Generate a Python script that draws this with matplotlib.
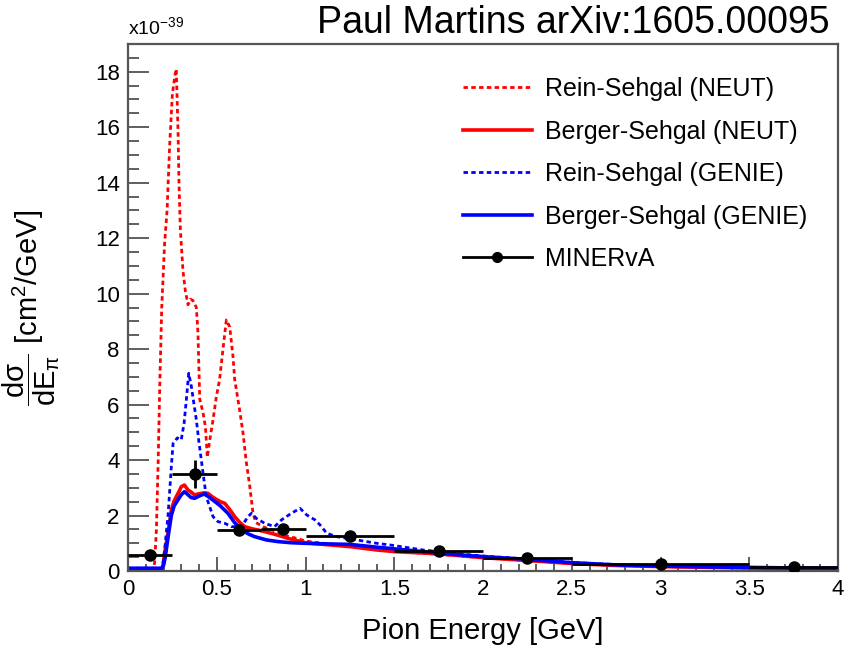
"""
Coherent pion production: dsigma/dE_pi, NEUT/GENIE models vs MINERvA.
"""

import numpy as np
import matplotlib
matplotlib.use('Agg')
import matplotlib.pyplot as plt
from matplotlib.lines import Line2D
from matplotlib.ticker import MultipleLocator

plt.rcParams['font.family'] = ['Liberation Sans', 'DejaVu Sans']
plt.rcParams['mathtext.fontset'] = 'custom'
plt.rcParams['mathtext.rm'] = 'Liberation Sans'
plt.rcParams['mathtext.it'] = 'Liberation Sans:italic'
plt.rcParams['mathtext.sf'] = 'Liberation Sans'

# ---------------------------------------------------------------------------
# Data (units of 1e-39 cm^2/GeV)
# ---------------------------------------------------------------------------

rs_neut_e = [0.0, 0.14, 0.15, 0.16, 0.17, 0.18, 0.19, 0.206, 0.22, 0.235, 0.25,
             0.265, 0.272, 0.282, 0.287, 0.295, 0.31, 0.323, 0.338, 0.352, 0.366,
             0.385, 0.394, 0.404, 0.423, 0.436, 0.447, 0.46, 0.479, 0.498, 0.516,
             0.535, 0.554, 0.573, 0.592, 0.601, 0.629, 0.648, 0.667, 0.686, 0.704,
             0.72, 0.76, 0.80, 0.85, 0.90, 0.95, 1.0, 1.1, 1.2, 1.3, 1.4, 1.5,
             1.6, 1.7, 1.8, 1.9, 2.0, 2.1, 2.25, 2.4, 2.5, 2.75, 3.0, 3.5, 4.0]
rs_neut_v = [0.0, 0.0, 0.3, 1.5, 4.0, 7.0, 9.5, 11.8, 13.0, 15.4, 17.2,
             17.9, 18.1, 15.8, 14.0, 12.3, 10.8, 10.1, 9.6, 9.8, 9.75,
             9.5, 8.6, 6.2, 5.7, 5.2, 4.1, 4.7, 5.45, 6.3, 6.9,
             8.0, 9.05, 8.8, 7.7, 6.9, 5.8, 4.97, 3.9, 3.05, 2.1,
             1.75, 1.6, 1.5, 1.4, 1.25, 1.18, 1.08, 1.0, 0.94, 0.9, 0.8, 0.72,
             0.67, 0.62, 0.58, 0.53, 0.48, 0.44, 0.38, 0.32, 0.27, 0.2, 0.16, 0.11, 0.08]

bs_neut_e = [0.0, 0.19, 0.2, 0.206, 0.225, 0.244, 0.258, 0.272, 0.29, 0.30,
             0.318, 0.338, 0.355, 0.375, 0.395, 0.413, 0.43, 0.45, 0.47, 0.488,
             0.52, 0.545, 0.575, 0.601, 0.63, 0.657, 0.70, 0.732, 0.77, 0.807,
             0.85, 0.90, 0.95, 1.0, 1.1, 1.25, 1.4, 1.5, 1.75, 1.93, 2.0,
             2.25, 2.5, 2.75, 3.0, 3.5, 4.0]
bs_neut_v = [0.0, 0.0, 0.3, 0.64, 1.36, 2.2, 2.5, 2.68, 2.9, 3.04,
             3.1, 2.92, 2.85, 2.74, 2.78, 2.8, 2.82, 2.8, 2.7, 2.62,
             2.5, 2.44, 2.2, 1.96, 1.75, 1.6, 1.52, 1.48, 1.42, 1.36,
             1.28, 1.18, 1.1, 1.02, 0.96, 0.88, 0.76, 0.7, 0.62, 0.52, 0.48,
             0.38, 0.27, 0.2, 0.16, 0.11, 0.08]

rs_genie_e = [0.0, 0.19, 0.2, 0.206, 0.225, 0.244, 0.254, 0.278, 0.30, 0.316,
              0.329, 0.342, 0.357, 0.368, 0.385, 0.398, 0.413, 0.428, 0.441, 0.46,
              0.479, 0.507, 0.545, 0.582, 0.639, 0.676, 0.695, 0.723, 0.77, 0.826,
              0.864, 0.92, 0.969, 1.007, 1.054, 1.082, 1.12, 1.176, 1.289, 1.4,
              1.476, 1.66, 1.93, 2.0, 2.25, 2.5, 2.75, 3.0, 3.5, 4.0]
rs_genie_v = [0.1, 0.1, 0.4, 0.76, 1.96, 3.76, 4.6, 4.8, 4.73, 5.33,
              6.2, 7.13, 6.65, 6.17, 5.45, 4.73, 4.0, 3.28, 2.68, 2.32,
              1.96, 1.78, 1.72, 1.6, 1.6, 1.96, 2.08, 1.9, 1.72, 1.6,
              1.84, 2.08, 2.26, 2.02, 1.84, 1.66, 1.36, 1.24, 1.12, 1.0,
              0.94, 0.76, 0.58, 0.54, 0.43, 0.31, 0.23, 0.18, 0.13, 0.1]

bs_genie_e = [0.0, 0.19, 0.2, 0.21, 0.225, 0.244, 0.26, 0.28, 0.30, 0.318,
              0.338, 0.355, 0.375, 0.40, 0.43, 0.46, 0.49, 0.52, 0.563, 0.60,
              0.64, 0.68, 0.713, 0.78, 0.845, 0.92, 0.995, 1.1, 1.25, 1.4,
              1.5, 1.66, 1.8, 1.93, 2.0, 2.25, 2.5, 2.75, 3.0, 3.25, 3.5, 3.75, 4.0]
bs_genie_v = [0.1, 0.1, 0.2, 0.5, 1.2, 2.0, 2.35, 2.55, 2.75, 2.86,
              2.75, 2.65, 2.62, 2.7, 2.78, 2.65, 2.5, 2.35, 2.08, 1.75,
              1.48, 1.33, 1.24, 1.12, 1.06, 1.02, 1.0, 0.98, 0.96, 0.86,
              0.8, 0.7, 0.62, 0.55, 0.52, 0.42, 0.3, 0.22, 0.18, 0.15, 0.13, 0.11, 0.1]

minerva_lo = [0.0, 0.25, 0.5, 0.75, 1.0, 1.5, 2.0, 2.5, 3.5]
minerva_hi = [0.25, 0.5, 0.75, 1.0, 1.5, 2.0, 2.5, 3.5, 4.0]
minerva_v = [0.58, 3.5, 1.48, 1.53, 1.26, 0.73, 0.46, 0.25, 0.16]
minerva_err = [0.1, 0.5, 0.12, 0.12, 0.1, 0.06, 0.05, 0.1, 0.05]


# ---------------------------------------------------------------------------
# Plot
# ---------------------------------------------------------------------------

def main():
    fig = plt.figure(figsize=(8.58, 6.45), dpi=100)
    ax = fig.add_axes([0.1492, 0.1147, 0.8275, 0.8171])

    dash = (0, (1.6, 1.2))
    ax.plot(rs_neut_e, rs_neut_v, color='#ff0000', lw=2.0, ls=dash)
    ax.plot(bs_neut_e, bs_neut_v, color='#ff0000', lw=2.6)
    ax.plot(rs_genie_e, rs_genie_v, color='#0000ff', lw=2.0, ls=dash)
    ax.plot(bs_genie_e, bs_genie_v, color='#0000ff', lw=2.6)

    lo = np.array(minerva_lo)
    hi = np.array(minerva_hi)
    xc = 0.5 * (lo + hi)
    ax.errorbar(xc, minerva_v, xerr=[xc - lo, hi - xc], yerr=minerva_err,
                fmt='o', color='black', ms=8, elinewidth=2.0, capsize=0,
                zorder=5)

    ax.set_xlim(0, 4)
    ax.set_ylim(0, 19)
    ax.xaxis.set_minor_locator(MultipleLocator(0.1))
    ax.yaxis.set_major_locator(MultipleLocator(2))
    ax.yaxis.set_minor_locator(MultipleLocator(0.5))
    ax.set_xticks([0, 0.5, 1, 1.5, 2, 2.5, 3, 3.5, 4])
    ax.set_xticklabels(['0', '0.5', '1', '1.5', '2', '2.5', '3', '3.5', '4'])
    ax.tick_params(axis='x', which='major', direction='in', length=10, width=1.2,
                   labelsize=16, pad=6, color='#444444')
    ax.tick_params(axis='x', which='minor', direction='in', length=5, width=1.2,
                   color='#444444')
    ax.tick_params(axis='y', which='major', direction='in', length=15, width=1.2,
                   labelsize=16, pad=6, color='#444444')
    ax.tick_params(axis='y', which='minor', direction='in', length=8, width=1.2,
                   color='#444444')
    for sp in ax.spines.values():
        sp.set_color('#555555')
        sp.set_linewidth(1.6)

    ax.set_xlabel('Pion Energy [GeV]', fontsize=21, labelpad=12)
    ax.set_ylabel(r'$\dfrac{\mathrm{d\sigma}}{\mathrm{dE}_{\mathrm{\pi}}}$ [cm$^{2}$/GeV]',
                  fontsize=21)
    ax.yaxis.set_label_coords(-0.093, 0.5)

    ax.text(0.0, 1.012, r'x10$^{-39}$', transform=ax.transAxes,
            fontsize=14, ha='left', va='bottom')
    fig.text(0.967, 0.965, 'Paul Martins arXiv:1605.00095', fontsize=27,
             ha='right', va='center')

    handles = [
        Line2D([], [], color='#ff0000', lw=2.0, ls=dash),
        Line2D([], [], color='#ff0000', lw=2.6),
        Line2D([], [], color='#0000ff', lw=2.0, ls=dash),
        Line2D([], [], color='#0000ff', lw=2.6),
        Line2D([], [], color='black', lw=2.0, marker='o', ms=7),
    ]
    labels = ['Rein-Sehgal (NEUT)', 'Berger-Sehgal (NEUT)',
              'Rein-Sehgal (GENIE)', 'Berger-Sehgal (GENIE)', 'MINERvA']
    ax.legend(handles, labels, loc='upper left', bbox_to_anchor=(0.44, 0.98),
              frameon=False, fontsize=18, handlelength=2.75, handletextpad=0.55,
              labelspacing=0.74)

    fig.savefig('out.png', dpi=100)
    plt.close(fig)


if __name__ == '__main__':
    main()
